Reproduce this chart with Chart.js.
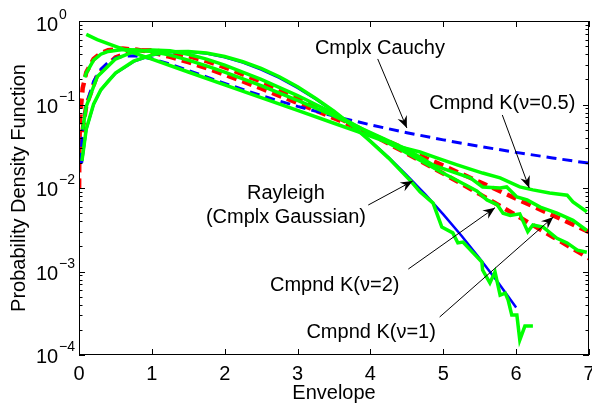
<!DOCTYPE html>
<html>
<head>
<meta charset="utf-8">
<script src="https://cdn.jsdelivr.net/npm/chart.js@4.4.0/dist/chart.umd.min.js"></script>
<style>
  body { margin: 0; background: #fff; }
  #wrap { width: 592px; height: 408px; }
</style>
</head>
<body>
<div id="wrap"><canvas id="chart"></canvas></div>
<script>
// axis ticks
const xTicks = [0, 1, 2, 3, 4, 5, 6, 7];
const yTicks = [1, 0.1, 0.01, 0.001, 0.0001];

// theory curves
const rayleighX = [0.04, 0.1, 0.2, 0.3, 0.4, 0.5, 0.75, 1, 1.25, 1.5, 1.75, 2, 2.25, 2.5, 2.75, 3, 3.25, 3.5, 3.75, 4, 4.25, 4.5, 4.75, 5, 5.25, 5.5, 5.75, 6];
const rayleighY = [0.02, 0.0499, 0.0995, 0.148, 0.192, 0.235, 0.326, 0.389, 0.423, 0.427, 0.407, 0.368, 0.317, 0.262, 0.208, 0.158, 0.116, 0.0819, 0.0559, 0.0366, 0.0232, 0.0142, 0.00843, 0.00483, 0.00268, 0.00143, 0.000742, 0.00037];

const cauchyX = [0.02, 0.05, 0.1, 0.2, 0.3, 0.4, 0.5, 0.6, 0.75, 1, 1.25, 1.5, 1.75, 2, 2.5, 3, 3.5, 4, 4.5, 5, 5.5, 6, 6.5, 7];
const cauchyY = [0.02, 0.0498, 0.0985, 0.189, 0.264, 0.32, 0.358, 0.378, 0.384, 0.354, 0.305, 0.256, 0.214, 0.179, 0.128, 0.0949, 0.0726, 0.0571, 0.0459, 0.0377, 0.0315, 0.0267, 0.0229, 0.0198];

const k1X = [0.0015, 0.003, 0.006, 0.01, 0.02, 0.05, 0.1, 0.2, 0.3, 0.4, 0.6, 0.8, 1, 1.25, 1.5, 1.75, 2, 2.5, 3, 3.5, 4, 4.5, 5, 5.5, 6, 6.5, 7];
const k1Y = [0.0099, 0.0178, 0.0314, 0.0472, 0.0806, 0.156, 0.243, 0.351, 0.412, 0.446, 0.467, 0.452, 0.421, 0.372, 0.321, 0.272, 0.228, 0.156, 0.104, 0.0686, 0.0446, 0.0288, 0.0185, 0.0118, 0.00746, 0.00472, 0.00297];

const k2X = [0.03, 0.05, 0.1, 0.25, 0.5, 0.75, 1, 1.25, 1.5, 1.75, 2, 2.5, 3, 3.5, 4, 4.5, 5, 5.5, 6, 6.5, 7];
const k2Y = [0.03, 0.0496, 0.0974, 0.2245, 0.366, 0.44, 0.445, 0.422, 0.381, 0.33, 0.279, 0.188, 0.1204, 0.074, 0.0443, 0.0259, 0.0149, 0.00844, 0.00472, 0.00261, 0.00144];

// simulated curves
const simRayX = [0.04, 0.1, 0.2, 0.3, 0.5, 0.75, 1, 1.25, 1.5, 1.75, 2, 2.25, 2.5, 2.75, 3, 3.25, 3.5, 3.75, 4, 4.25, 4.54, 4.68, 4.86, 4.98, 5.13, 5.2, 5.27, 5.41, 5.53, 5.54, 5.64, 5.71, 5.78, 5.85, 5.89, 5.94, 6.01, 6.05, 6.12, 6.23];
const simRayY = [0.021, 0.051, 0.101, 0.15, 0.238, 0.33, 0.393, 0.427, 0.432, 0.413, 0.375, 0.325, 0.27, 0.215, 0.163, 0.118, 0.083, 0.056, 0.0362, 0.0228, 0.0125, 0.009, 0.0066, 0.0034, 0.0029, 0.0022, 0.00225, 0.00167, 0.0013, 0.00104, 0.00073, 0.00099, 0.00052, 0.00055, 0.000456, 0.000301, 0.000301, 0.000151, 0.000222, 0.000222];

const simK05X = [0.1, 0.25, 0.5, 0.75, 1, 1.5, 2, 2.5, 3, 3.5, 4, 4.41, 4.68, 4.91, 5.19, 5.54, 5.78, 6.05, 6.23, 6.46, 6.7, 6.78, 6.97];
const simK05Y = [0.69, 0.6, 0.497, 0.416, 0.349, 0.245, 0.172, 0.121, 0.0849, 0.0596, 0.0418, 0.031, 0.027, 0.0229, 0.0189, 0.0151, 0.0132, 0.0103, 0.0095, 0.0087, 0.0082, 0.0068, 0.0052];

const simK1X = [0.08, 0.1, 0.2, 0.3, 0.4, 0.6, 0.8, 1, 1.25, 1.5, 1.75, 2, 2.5, 3, 3.5, 4, 4.5, 4.86, 5.13, 5.37, 5.54, 5.78, 5.87, 6.01, 6.15, 6.33, 6.56, 6.78, 6.97];
const simK1Y = [0.211, 0.238, 0.34, 0.4, 0.432, 0.455, 0.45, 0.432, 0.39, 0.34, 0.29, 0.244, 0.168, 0.112, 0.073, 0.046, 0.029, 0.0188, 0.0156, 0.0132, 0.0103, 0.01, 0.0103, 0.0078, 0.0072, 0.0059, 0.005, 0.0041, 0.0031];

const simK2X = [0.05, 0.1, 0.25, 0.5, 0.75, 1, 1.25, 1.5, 1.75, 2, 2.5, 3, 3.5, 4, 4.5, 5, 5.23, 5.46, 5.6, 5.74, 5.82, 5.92, 6.05, 6.16, 6.23, 6.37, 6.56, 6.7, 6.84, 6.97];
const simK2Y = [0.05, 0.095, 0.215, 0.35, 0.43, 0.45, 0.44, 0.4, 0.35, 0.297, 0.2, 0.128, 0.078, 0.045, 0.0262, 0.015, 0.0118, 0.0092, 0.0072, 0.0063, 0.005, 0.0047, 0.0049, 0.003, 0.0036, 0.0034, 0.0025, 0.0022, 0.0018, 0.0017];

// labels with arrows, in data coordinates
const notes = [
  { lines: ['Cmplx Cauchy'], x: 4.13, y: 0.402, from: [4.10, 0.351], to: [4.50, 0.0523] },
  { lines: ['Cmpnd K(\u03BD=0.5)'], x: 5.81, y: 0.0883, from: [5.81, 0.0749], to: [6.18, 0.0100] },
  { lines: ['Rayleigh', '(Cmplx Gaussian)'], x: 2.84, y: 0.00741, from: [3.97, 0.00625], to: [4.58, 0.0121] },
  { lines: ['Cmpnd K(\u03BD=2)'], x: 3.51, y: 0.000584, from: [4.52, 0.00107], to: [5.71, 0.00581] },
  { lines: ['Cmpnd K(\u03BD=1)'], x: 4.01, y: 0.00016, from: [4.95, 0.000285], to: [6.51, 0.00449] }
];

const FONT = '"Liberation Sans", Arial, Helvetica, sans-serif';

function pts(xs, ys) {
  return xs.map((x, i) => ({ x: x, y: ys[i] }));
}

function arrowHead(ctx, x1, y1, x2, y2) {
  const a = Math.atan2(y2 - y1, x2 - x1);
  const len = 12, half = 5, notch = 8;
  ctx.save();
  ctx.translate(x2, y2);
  ctx.rotate(a);
  ctx.beginPath();
  ctx.moveTo(0, 0);
  ctx.lineTo(-len, -half);
  ctx.lineTo(-notch, 0);
  ctx.lineTo(-len, half);
  ctx.closePath();
  ctx.fill();
  ctx.restore();
}

const axesPlugin = {
  id: 'matlabAxes',
  afterDraw(chart) {
    const ctx = chart.ctx;
    const xs = chart.scales.x, ys = chart.scales.y;
    const a = chart.chartArea;
    ctx.save();
    ctx.strokeStyle = '#000';
    ctx.fillStyle = '#000';
    ctx.lineWidth = 1;
    // box
    ctx.strokeRect(a.left + 0.5, a.top + 0.5, a.right - a.left - 1, a.bottom - a.top - 1);
    ctx.beginPath();
    // x ticks top and bottom
    xTicks.forEach(v => {
      const px = Math.round(xs.getPixelForValue(v)) + 0.5;
      ctx.moveTo(px, a.bottom); ctx.lineTo(px, a.bottom - 6);
      ctx.moveTo(px, a.top); ctx.lineTo(px, a.top + 6);
    });
    // y ticks, major and minor, left and right
    yTicks.forEach(v => {
      for (let k = 1; k <= 9; k++) {
        const val = v * k;
        if (val > 1.0001) continue;
        const py = Math.round(ys.getPixelForValue(val)) + 0.5;
        const len = k === 1 ? 6 : 3.5;
        ctx.moveTo(a.left, py); ctx.lineTo(a.left + len, py);
        ctx.moveTo(a.right, py); ctx.lineTo(a.right - len, py);
      }
    });
    ctx.stroke();

    // x tick labels
    ctx.font = '20px ' + FONT;
    ctx.textAlign = 'center';
    ctx.textBaseline = 'alphabetic';
    xTicks.forEach(v => {
      ctx.fillText(String(v), xs.getPixelForValue(v), 380);
    });
    // y tick labels 10^n
    yTicks.forEach(v => {
      const e = Math.round(Math.log10(v));
      const py = ys.getPixelForValue(v);
      const base = e === 0 ? py + 10 : py + 8;
      ctx.font = '20px ' + FONT;
      ctx.textAlign = 'left';
      ctx.fillText('10', 36, base);
      ctx.font = '14px ' + FONT;
      ctx.fillText(e === 0 ? '0' : '\u2212' + Math.abs(e), 59, base - 12);
    });

    // axis titles
    ctx.font = '20px ' + FONT;
    ctx.textAlign = 'center';
    ctx.fillText('Envelope', (a.left + a.right) / 2, 399);
    ctx.save();
    ctx.translate(25, (a.top + a.bottom) / 2);
    ctx.rotate(-Math.PI / 2);
    ctx.fillText('Probability Density Function', 0, 0);
    ctx.restore();

    // annotations
    notes.forEach(n => {
      const cx = xs.getPixelForValue(n.x);
      const by = ys.getPixelForValue(n.y);
      ctx.font = '20px ' + FONT;
      ctx.textAlign = 'center';
      n.lines.forEach((t, i) => ctx.fillText(t, cx, by + i * 24));
      const x1 = xs.getPixelForValue(n.from[0]), y1 = ys.getPixelForValue(n.from[1]);
      const x2 = xs.getPixelForValue(n.to[0]), y2 = ys.getPixelForValue(n.to[1]);
      ctx.beginPath();
      ctx.moveTo(x1, y1);
      ctx.lineTo(x2, y2);
      ctx.stroke();
      arrowHead(ctx, x1, y1, x2, y2);
    });
    ctx.restore();
  }
};

const GREEN = '#00ff00', RED = '#ff0000', BLUE = '#0000ff';

function line(xs, ys, color, width, dash, order) {
  return {
    data: pts(xs, ys),
    borderColor: color,
    borderWidth: width,
    borderDash: dash || [],
    borderCapStyle: 'butt',
    pointRadius: 0,
    fill: false,
    tension: 0,
    order: order
  };
}

// lower order is drawn on top: the green simulations cover the theory curves
new Chart(document.getElementById('chart'), {
  type: 'line',
  data: {
    datasets: [
      line(rayleighX, rayleighY, BLUE, 2.5, null, 2),
      line(cauchyX, cauchyY, BLUE, 3, [10, 6], 2),
      line(k1X, k1Y, RED, 4.5, [10, 6], 2),
      line(k2X, k2Y, RED, 4.5, [10, 6], 2),
      line(simRayX, simRayY, GREEN, 3.5, null, 1),
      line(simK05X, simK05Y, GREEN, 3.5, null, 1),
      line(simK1X, simK1Y, GREEN, 3.5, null, 1),
      line(simK2X, simK2Y, GREEN, 3.5, null, 1)
    ]
  },
  options: {
    responsive: true,
    maintainAspectRatio: false,
    animation: false,
    layout: { padding: { left: 79, right: 3, top: 21, bottom: 53 } },
    scales: {
      x: { type: 'linear', min: 0, max: 7, display: false },
      y: { type: 'logarithmic', min: 0.0001, max: 1, display: false }
    },
    plugins: {
      legend: { display: false },
      tooltip: { enabled: false }
    }
  },
  plugins: [axesPlugin]
});
</script>
</body>
</html>
